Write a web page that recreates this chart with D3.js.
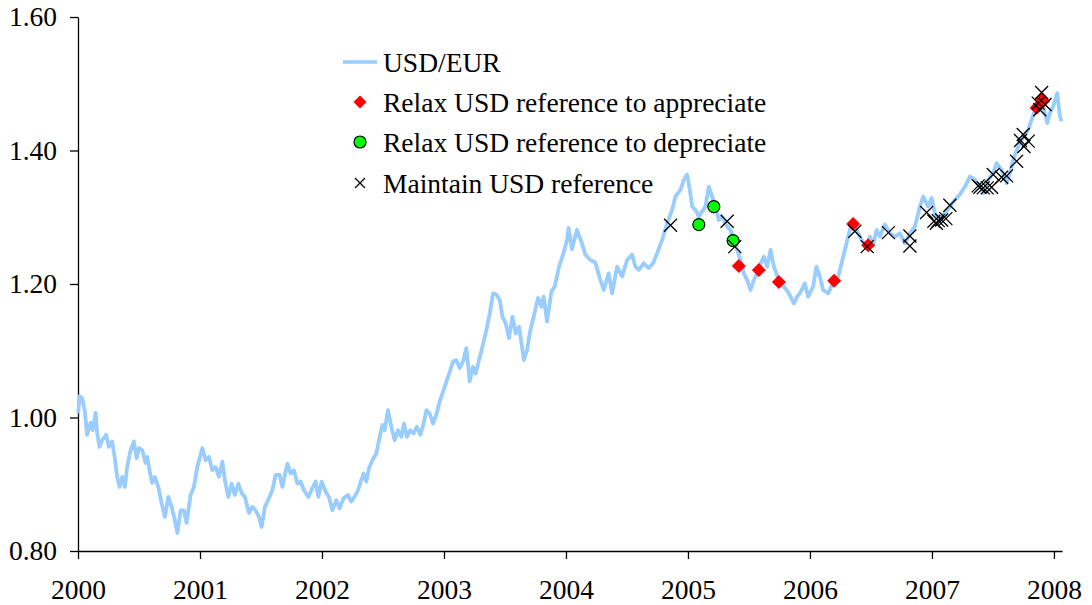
<!DOCTYPE html>
<html>
<head>
<meta charset="utf-8">
<script src="https://cdn.jsdelivr.net/npm/d3@7"></script>
<style>
  body { margin: 0; background: #fff; }
  text { font-family: "Liberation Serif", "DejaVu Serif", "Noto Serif", Tinos, serif; }
</style>
</head>
<body>
<div id="chart"></div>
<script>
// --- data (decimal year, USD per EUR) ---
var rateDates = [
  2000.002, 2000.012, 2000.034, 2000.056, 2000.075, 2000.103, 2000.121, 2000.144, 2000.157, 2000.176,
  2000.198, 2000.231, 2000.253, 2000.280, 2000.302, 2000.321, 2000.340, 2000.362, 2000.384, 2000.403,
  2000.431, 2000.458, 2000.480, 2000.499, 2000.526, 2000.554, 2000.567, 2000.586, 2000.608, 2000.630,
  2000.658, 2000.685, 2000.712, 2000.740, 2000.767, 2000.794, 2000.814, 2000.841, 2000.868, 2000.890,
  2000.923, 2000.950, 2000.978, 2001.019, 2001.046, 2001.073, 2001.101, 2001.128, 2001.155, 2001.183,
  2001.204, 2001.232, 2001.259, 2001.286, 2001.314, 2001.341, 2001.368, 2001.401, 2001.429, 2001.456,
  2001.483, 2001.505, 2001.532, 2001.565, 2001.593, 2001.620, 2001.652, 2001.675, 2001.716, 2001.743,
  2001.770, 2001.798, 2001.825, 2001.852, 2001.888, 2001.921, 2001.948, 2001.970, 2001.997, 2002.035,
  2002.057, 2002.085, 2002.117, 2002.144, 2002.177, 2002.213, 2002.240, 2002.267, 2002.295, 2002.322,
  2002.341, 2002.363, 2002.385, 2002.413, 2002.445, 2002.473, 2002.495, 2002.514, 2002.541, 2002.568,
  2002.596, 2002.623, 2002.650, 2002.672, 2002.696, 2002.724, 2002.751, 2002.778, 2002.806, 2002.833,
  2002.856, 2002.883, 2002.910, 2002.937, 2002.965, 2002.997, 2003.024, 2003.052, 2003.074, 2003.101,
  2003.129, 2003.156, 2003.184, 2003.211, 2003.238, 2003.260, 2003.287, 2003.315, 2003.348, 2003.375,
  2003.402, 2003.430, 2003.457, 2003.479, 2003.506, 2003.533, 2003.561, 2003.588, 2003.615, 2003.637,
  2003.654, 2003.681, 2003.708, 2003.735, 2003.771, 2003.799, 2003.817, 2003.845, 2003.881, 2003.908,
  2003.943, 2003.976, 2004.009, 2004.022, 2004.049, 2004.090, 2004.129, 2004.159, 2004.200, 2004.241,
  2004.282, 2004.310, 2004.350, 2004.378, 2004.419, 2004.460, 2004.501, 2004.542, 2004.569, 2004.597,
  2004.637, 2004.678, 2004.714, 2004.747, 2004.788, 2004.829, 2004.870, 2004.897, 2004.938, 2004.966,
  2004.993, 2005.015, 2005.034, 2005.061, 2005.089, 2005.116, 2005.143, 2005.171, 2005.198, 2005.226,
  2005.253, 2005.280, 2005.321, 2005.348, 2005.376, 2005.403, 2005.431, 2005.458, 2005.485, 2005.512,
  2005.540, 2005.567, 2005.595, 2005.622, 2005.649, 2005.677, 2005.704, 2005.745, 2005.786, 2005.827,
  2005.868, 2005.895, 2005.917, 2005.958, 2005.985, 2006.026, 2006.053, 2006.081, 2006.108, 2006.149,
  2006.198, 2006.231, 2006.259, 2006.286, 2006.313, 2006.341, 2006.382, 2006.423, 2006.464, 2006.491,
  2006.518, 2006.546, 2006.573, 2006.614, 2006.655, 2006.696, 2006.737, 2006.778, 2006.819, 2006.860,
  2006.901, 2006.928, 2006.969, 2006.997, 2007.024, 2007.065, 2007.106, 2007.147, 2007.188, 2007.229,
  2007.270, 2007.311, 2007.352, 2007.393, 2007.420, 2007.461, 2007.502, 2007.530, 2007.571, 2007.612,
  2007.639, 2007.666, 2007.707, 2007.748, 2007.789, 2007.817, 2007.844, 2007.871, 2007.912, 2007.945,
  2007.967, 2007.994, 2008.027, 2008.049, 2008.063
];
var rateValues = [
  1.006, 1.032, 1.029, 1.009, 0.974, 0.992, 0.981, 1.007, 0.977, 0.956,
  0.966, 0.974, 0.956, 0.964, 0.939, 0.911, 0.896, 0.911, 0.896, 0.926,
  0.951, 0.964, 0.939, 0.954, 0.951, 0.932, 0.941, 0.921, 0.902, 0.911,
  0.896, 0.872, 0.851, 0.881, 0.866, 0.846, 0.827, 0.861, 0.861, 0.842,
  0.884, 0.896, 0.926, 0.954, 0.936, 0.941, 0.921, 0.926, 0.911, 0.934,
  0.906, 0.881, 0.901, 0.884, 0.901, 0.887, 0.881, 0.857, 0.866, 0.861,
  0.851, 0.836, 0.866, 0.879, 0.891, 0.914, 0.914, 0.896, 0.931, 0.916,
  0.921, 0.901, 0.904, 0.891, 0.881, 0.894, 0.904, 0.881, 0.904, 0.887,
  0.881, 0.861, 0.876, 0.864, 0.879, 0.884, 0.874, 0.881, 0.891, 0.906,
  0.916, 0.904, 0.924, 0.936, 0.946, 0.971, 0.989, 0.981, 1.011, 0.986,
  0.966, 0.981, 0.971, 0.991, 0.971, 0.981, 0.976, 0.986, 0.974, 0.991,
  1.011, 1.006, 0.991, 1.004, 1.024, 1.041, 1.056, 1.071, 1.084, 1.086,
  1.074, 1.084, 1.104, 1.054, 1.076, 1.066, 1.086, 1.106, 1.131, 1.156,
  1.186, 1.184, 1.176, 1.151, 1.141, 1.119, 1.151, 1.126, 1.136, 1.109,
  1.086, 1.101, 1.131, 1.151, 1.179, 1.166, 1.181, 1.144, 1.189, 1.196,
  1.226, 1.244, 1.266, 1.284, 1.252, 1.281, 1.262, 1.244, 1.236, 1.232,
  1.206, 1.191, 1.216, 1.186, 1.226, 1.211, 1.236, 1.244, 1.226, 1.221,
  1.231, 1.224, 1.231, 1.246, 1.266, 1.291, 1.311, 1.331, 1.341, 1.356,
  1.364, 1.341, 1.316, 1.311, 1.301, 1.309, 1.316, 1.346, 1.331, 1.316,
  1.296, 1.301, 1.286, 1.281, 1.266, 1.251, 1.236, 1.216, 1.206, 1.191,
  1.206, 1.216, 1.231, 1.241, 1.226, 1.251, 1.226, 1.206, 1.196, 1.186,
  1.171, 1.181, 1.186, 1.201, 1.181, 1.196, 1.226, 1.211, 1.191, 1.186,
  1.205, 1.211, 1.231, 1.251, 1.271, 1.291, 1.281, 1.266, 1.256, 1.271,
  1.258, 1.281, 1.271, 1.289, 1.276, 1.271, 1.276, 1.261, 1.276, 1.286,
  1.316, 1.331, 1.316, 1.329, 1.306, 1.296, 1.306, 1.316, 1.326, 1.334,
  1.346, 1.361, 1.356, 1.346, 1.336, 1.356, 1.366, 1.381, 1.371, 1.351,
  1.366, 1.386, 1.406, 1.421, 1.431, 1.446, 1.461, 1.471, 1.466, 1.441,
  1.456, 1.466, 1.486, 1.451, 1.444
];

// --- policy decisions: [decimal year, rate] ---
var appreciatePoints = [
  [2005.417, 1.227], [2005.581, 1.221], [2005.745, 1.203], [2006.198, 1.205],
  [2006.354, 1.290], [2006.477, 1.258], [2007.858, 1.464], [2007.899, 1.476],
  [2007.912, 1.474]
];
var depreciatePoints = [
  [2005.089, 1.289], [2005.212, 1.316], [2005.370, 1.265]
];
var maintainPoints = [
  [2004.857, 1.288], [2005.321, 1.294], [2005.384, 1.256], [2006.368, 1.279],
  [2006.469, 1.256], [2006.643, 1.277], [2006.819, 1.272], [2006.819, 1.257],
  [2006.956, 1.307], [2007.016, 1.294], [2007.036, 1.291], [2007.051, 1.295],
  [2007.079, 1.296], [2007.114, 1.298], [2007.147, 1.318], [2007.379, 1.347],
  [2007.393, 1.345], [2007.420, 1.344], [2007.453, 1.344], [2007.489, 1.345],
  [2007.502, 1.364], [2007.571, 1.360], [2007.612, 1.362], [2007.694, 1.384],
  [2007.726, 1.415], [2007.748, 1.424], [2007.754, 1.406], [2007.789, 1.414],
  [2007.871, 1.471], [2007.884, 1.461], [2007.899, 1.487], [2007.927, 1.469]
];

var yearTicks = [2000, 2001, 2002, 2003, 2004, 2005, 2006, 2007, 2008];
var rateTicks = [0.8, 1.0, 1.2, 1.4, 1.6];
var legendLabels = [
  "USD/EUR",
  "Relax USD reference to appreciate",
  "Relax USD reference to depreciate",
  "Maintain USD reference"
];

var lineColor = "#99ccff";
var fontSize = 27.5;
var fontFamily = '"Liberation Serif", "DejaVu Serif", "Noto Serif", Tinos, serif';

// --- small helpers ---
function translate(x, y) {
  return "translate(" + x + ", " + y + ")";
}

function diamondPath(cx, cy, r) {
  return "M" + cx + "," + (cy - r) + "L" + (cx + r) + "," + cy +
    "L" + cx + "," + (cy + r) + "L" + (cx - r) + "," + cy + "Z";
}

function crossPath(cx, cy, r) {
  return "M" + (cx - r) + "," + (cy - r) + "L" + (cx + r) + "," + (cy + r) +
    "M" + (cx - r) + "," + (cy + r) + "L" + (cx + r) + "," + (cy - r);
}

var w = 1092,
  h = 605;
var svg = d3.select("#chart")
  .append("svg")
  .attr("width", w)
  .attr("height", h)
  .attr("font-family", fontFamily);

var xScale = d3.scaleLinear().domain([2000, 2008.066]).range([78, 1062]);
var yScale = d3.scaleLinear().domain([0.8, 1.6]).range([551, 17]);

// --- axes ---
var xAxis = svg.append("g")
  .attr("transform", translate(0, 551))
  .call(d3.axisBottom(xScale).tickValues(yearTicks).tickFormat(d3.format("d"))
    .tickSize(8).tickSizeOuter(0));
xAxis.attr("font-family", fontFamily);
xAxis.selectAll("text")
  .attr("y", 48)
  .attr("dy", 0);

var yAxis = svg.append("g")
  .attr("transform", translate(78, 0))
  .call(d3.axisLeft(yScale).tickValues(rateTicks).tickFormat(d3.format(".2f"))
    .tickSize(8).tickSizeOuter(0));
yAxis.attr("font-family", fontFamily);
yAxis.selectAll("text").attr("x", -21);

svg.selectAll(".tick text")
  .attr("fill", "#000")
  .attr("font-size", fontSize)
  .attr("font-family", fontFamily);
svg.selectAll(".domain, .tick line").attr("stroke", "#000").attr("stroke-width", 1.3);

// --- the exchange rate line ---
var rateData = rateDates.map(function (d, i) {
  return [d, rateValues[i]];
});
var line = d3.line()
  .x(function (d) { return xScale(d[0]); })
  .y(function (d) { return yScale(d[1]); });

svg.append("path")
  .datum(rateData)
  .attr("fill", "none")
  .attr("stroke", lineColor)
  .attr("stroke-width", 3.8)
  .attr("stroke-linejoin", "round")
  .attr("d", line);

// --- markers ---
svg.selectAll(".appreciate")
  .data(appreciatePoints)
  .enter()
  .append("path")
  .attr("class", "appreciate")
  .attr("fill", "#ff0000")
  .attr("d", function (d) { return diamondPath(xScale(d[0]), yScale(d[1]), 7); });

svg.selectAll(".depreciate")
  .data(depreciatePoints)
  .enter()
  .append("circle")
  .attr("class", "depreciate")
  .attr("cx", function (d) { return xScale(d[0]); })
  .attr("cy", function (d) { return yScale(d[1]); })
  .attr("r", 6)
  .attr("fill", "#00ff00")
  .attr("stroke", "#000")
  .attr("stroke-width", 1.2);

svg.selectAll(".maintain")
  .data(maintainPoints)
  .enter()
  .append("path")
  .attr("class", "maintain")
  .attr("fill", "none")
  .attr("stroke", "#000")
  .attr("stroke-width", 1.3)
  .attr("d", function (d) { return crossPath(xScale(d[0]), yScale(d[1]), 6.5); });

// --- legend ---
var legend = svg.append("g");
var rowY = [62, 102, 142, 183];
legend.append("line")
  .attr("x1", 343).attr("x2", 377)
  .attr("y1", rowY[0]).attr("y2", rowY[0])
  .attr("stroke", lineColor)
  .attr("stroke-width", 3.5);
legend.append("path")
  .attr("fill", "#ff0000")
  .attr("d", diamondPath(360, rowY[1], 6.5));
legend.append("circle")
  .attr("cx", 360).attr("cy", rowY[2]).attr("r", 6)
  .attr("fill", "#00ff00")
  .attr("stroke", "#000")
  .attr("stroke-width", 1.2);
legend.append("path")
  .attr("fill", "none")
  .attr("stroke", "#000")
  .attr("stroke-width", 1.3)
  .attr("d", crossPath(360, rowY[3], 5));

legend.selectAll(".legend_text")
  .data(legendLabels)
  .enter()
  .append("text")
  .attr("class", "legend_text")
  .attr("x", 383)
  .attr("y", function (d, i) { return rowY[i] + 10; })
  .attr("font-size", fontSize)
  .text(function (d) { return d; });
</script>
</body>
</html>
